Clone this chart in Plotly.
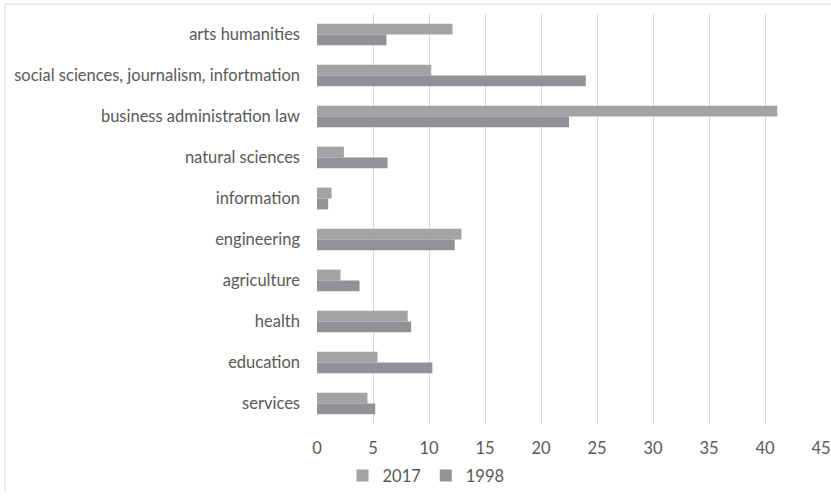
import plotly.graph_objects as go

categories = ["arts humanities", "social sciences, journalism, infortmation",
              "business administration law", "natural sciences", "information",
              "engineering", "agriculture", "health", "education", "services"]
v2017 = [12.1, 10.2, 41.1, 2.4, 1.3, 12.9, 2.1, 8.1, 5.4, 4.5]
v1998 = [6.2, 24.0, 22.5, 6.3, 1.0, 12.3, 3.8, 8.4, 10.3, 5.2]
xticks = [0, 5, 10, 15, 20, 25, 30, 35, 40, 45]

font = dict(family="Lato, 'Open Sans', sans-serif", size=16.5, color="#595959")

fig = go.Figure()
fig.add_trace(go.Bar(name="2017", y=categories, x=v2017, orientation="h",
                     marker=dict(color="#a3a3a6", line=dict(width=0))))
fig.add_trace(go.Bar(name="1998", y=categories, x=v1998, orientation="h",
                     marker=dict(color="#929296", line=dict(width=0))))

L, R, T, B = 317, 10, 14, 69
W, H = 831, 503
pw, ph = W - L - R, H - T - B

bx0, by0 = (5 - L) / pw, 1 - (4 - T) / ph
border = dict(color="#e6e6e6", width=1.5)

fig.update_layout(
    width=W, height=H, autosize=False,
    margin=dict(l=L, r=R, t=T, b=B, pad=0),
    paper_bgcolor="white", plot_bgcolor="white",
    barmode="group", bargap=0.47, bargroupgap=0,
    font=font,
    showlegend=True,
    legend=dict(orientation="h", x=(426 - L) / pw, xanchor="center",
                y=1 - (487 - T) / ph, yanchor="middle",
                font=font, itemwidth=30, tracegroupgap=0,
                traceorder="normal"),
    xaxis=dict(range=[0, 45], tickvals=xticks, showgrid=True, gridcolor="#d9d9d9",
               gridwidth=1, zeroline=False, showline=False, ticks="",
               ticklabelstandoff=12, tickfont=font, fixedrange=True,
               automargin=False),
    yaxis=dict(autorange="reversed", showgrid=False, zeroline=False, showline=False,
               ticks="", ticklabelstandoff=16, tickfont=font,
               fixedrange=True, automargin=False),
    shapes=[
        dict(type="line", xref="paper", yref="paper", x0=bx0, x1=(W - L) / pw,
             y0=by0, y1=by0, line=border, layer="below"),
        dict(type="line", xref="paper", yref="paper", x0=bx0, x1=bx0,
             y0=by0, y1=1 - (H - T) / ph, line=border, layer="below"),
    ],
)

fig.write_html("out.html")
